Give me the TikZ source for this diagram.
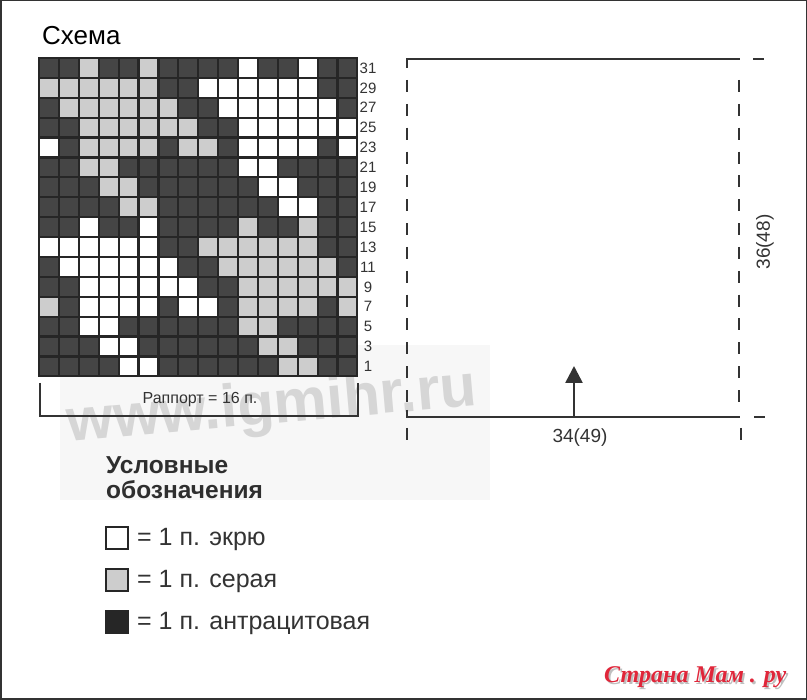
\documentclass[tikz,border=0pt]{standalone}
\usepackage{fontspec}
\setmainfont{Liberation Sans}
\newfontfamily\logofont{Liberation Serif}
\usetikzlibrary{arrows.meta}
\definecolor{cell0}{HTML}{454545}
\definecolor{cell1}{HTML}{FFFFFF}
\definecolor{cell2}{HTML}{CDCDCD}
\definecolor{grline}{HTML}{262626}
\definecolor{ink}{HTML}{333333}
\definecolor{wm}{HTML}{D6D6D6}
\definecolor{logored}{HTML}{E0263A}
\tikzset{
  rowlab/.style={font=\fontsize{15}{15}\selectfont, text=ink, inner sep=0pt},
  frameline/.style={line width=2.4pt, draw=ink},
  dashline/.style={line width=2.4pt, draw=ink, dash pattern=on 12pt off 11.85pt},
  tickline/.style={line width=1.5pt, draw=ink},
  legbox/.style={draw=grline, line width=2pt, minimum width=22pt, minimum height=22pt, inner sep=0pt},
  legtext/.style={font=\fontsize{25}{25}\selectfont, text=ink, anchor=base west, inner sep=0pt},
  legtitle/.style={font=\bfseries\fontsize{24.5}{24.5}\selectfont, text=ink!90!black, anchor=base west, inner sep=0pt},
  dimtext/.style={font=\fontsize{19}{19}\selectfont, text=ink, inner sep=0pt}
}
\begin{document}
\begin{tikzpicture}[x=1pt,y=-1pt]
\useasboundingbox (0,0) rectangle (807,700);
\fill[white] (0,0) rectangle (807,700);
\draw[line width=1.5pt, ink] (0.75,0.75) rectangle (806.25,699.25);

% watermark band and text
\fill[black!3] (60,345) rectangle (490,500);
\node[text=wm, font=\bfseries\fontsize{60}{60}\selectfont, rotate=5, inner sep=0pt] (wmark) at (272,408) {www.igmihr.ru};

% title
\node[anchor=base west, font=\fontsize{26}{26}\selectfont, text=black, inner sep=0pt] (title) at (42,45) {Схема};

% chart grid
\fill[grline] (38,57) rectangle (358.4,377.4);
\foreach \codes [count=\r from 0] in {
 {0,0,2,0,0,2,0,0,0,0,1,0,0,1,0,0},
 {2,2,2,2,2,2,0,0,1,1,1,1,1,1,0,0},
 {0,2,2,2,2,2,2,0,0,1,1,1,1,1,1,0},
 {0,0,2,2,2,2,2,2,0,0,1,1,1,1,1,1},
 {1,0,2,2,2,2,0,2,2,0,1,1,1,1,0,1},
 {0,0,2,2,0,0,0,0,0,0,1,1,0,0,0,0},
 {0,0,0,2,2,0,0,0,0,0,0,1,1,0,0,0},
 {0,0,0,0,2,2,0,0,0,0,0,0,1,1,0,0},
 {0,0,1,0,0,1,0,0,0,0,2,0,0,2,0,0},
 {1,1,1,1,1,1,0,0,2,2,2,2,2,2,0,0},
 {0,1,1,1,1,1,1,0,0,2,2,2,2,2,2,0},
 {0,0,1,1,1,1,1,1,0,0,2,2,2,2,2,2},
 {2,0,1,1,1,1,0,1,1,0,2,2,2,2,0,2},
 {0,0,1,1,0,0,0,0,0,0,2,2,0,0,0,0},
 {0,0,0,1,1,0,0,0,0,0,0,2,2,0,0,0},
 {0,0,0,0,1,1,0,0,0,0,0,0,2,2,0,0}}{
  \foreach \c [count=\i from 0] in \codes {
    \fill[cell\c] (39+19.9*\i+1.1, 58+19.9*\r+1.1) rectangle (39+19.9*\i+18.8, 58+19.9*\r+18.8);
  }
  \pgfmathtruncatemacro\lab{31-2*\r}
  \node[rowlab] (rl\r) at (368, 58+9.95+19.9*\r) {\lab};
}

% rapport bracket
\coordinate (bl1) at (40,383);
\coordinate (bl2) at (40,416);
\coordinate (br2) at (358,416);
\coordinate (br1) at (358,383);
\draw[line width=1.5pt, ink] (bl1) -- (bl2) -- (br2) -- (br1);
\node[font=\fontsize{16}{16}\selectfont, text=ink, inner sep=0pt] (rapport) at (200,400) {Раппорт = 16 п.};

% garment schematic
\coordinate (tlstub) at (407,68);
\coordinate (tl) at (407,59);
\coordinate (tr) at (740,59);
\coordinate (blstub) at (407,410);
\coordinate (bl) at (407,417);
\coordinate (br) at (740,417);
\draw[frameline] (tlstub) -- (tl) -- (tr);
\draw[frameline] (blstub) -- (bl) -- (br);
\coordinate (ld1) at (407,80);
\coordinate (ld2) at (407,402);
\coordinate (rd1) at (739,80);
\coordinate (rd2) at (739,402);
\draw[dashline] (ld1) -- (ld2);
\draw[dashline] (rd1) -- (rd2);
\coordinate (lb1) at (407,428);
\coordinate (lb2) at (407,440);
\coordinate (rb1) at (741,428);
\coordinate (rb2) at (741,440);
\draw[line width=2.2pt, ink] (lb1) -- (lb2);
\draw[line width=2.2pt, ink] (rb1) -- (rb2);
\coordinate (tt1) at (753,59);
\coordinate (tt2) at (764,59);
\coordinate (bt1) at (754,417);
\coordinate (bt2) at (765,417);
\draw[tickline] (tt1) -- (tt2);
\draw[tickline] (bt1) -- (bt2);
\coordinate (arrA) at (574,416);
\coordinate (arrB) at (574,366);
\draw[line width=2.6pt, ink, -{Triangle[length=17pt,width=17pt]}] (arrA) -- (arrB);
\node[dimtext] (wlab) at (580,438) {34(49)};
\node[dimtext, rotate=90] (hlab) at (765,242) {36(48)};

% legend
\node[legtitle] (leg1) at (106,474) {Условные};
\node[legtitle] (leg2) at (106,499) {обозначения};
\node[legbox, fill=white] (b1) at (117,538) {};
\node[legbox, fill=cell2] (b2) at (117,580) {};
\node[legbox, fill=grline] (b3) at (117,622) {};
\node[legtext] (t1) at (137,546) {= 1 п. экрю};
\node[legtext] (t2) at (137,588) {= 1 п. серая};
\node[legtext] (t3) at (137,630) {= 1 п. антрацитовая};

% logo
\node[anchor=base west, font=\logofont\bfseries\itshape\fontsize{24}{24}\selectfont, text=black!25, inner sep=0pt] (logoshadow) at (606,685) {Страна Мам . ру};
\node[anchor=base west, font=\logofont\bfseries\itshape\fontsize{24}{24}\selectfont, text=logored, inner sep=0pt] (logo) at (604,683) {Страна Мам . ру};
\end{tikzpicture}
\end{document}
